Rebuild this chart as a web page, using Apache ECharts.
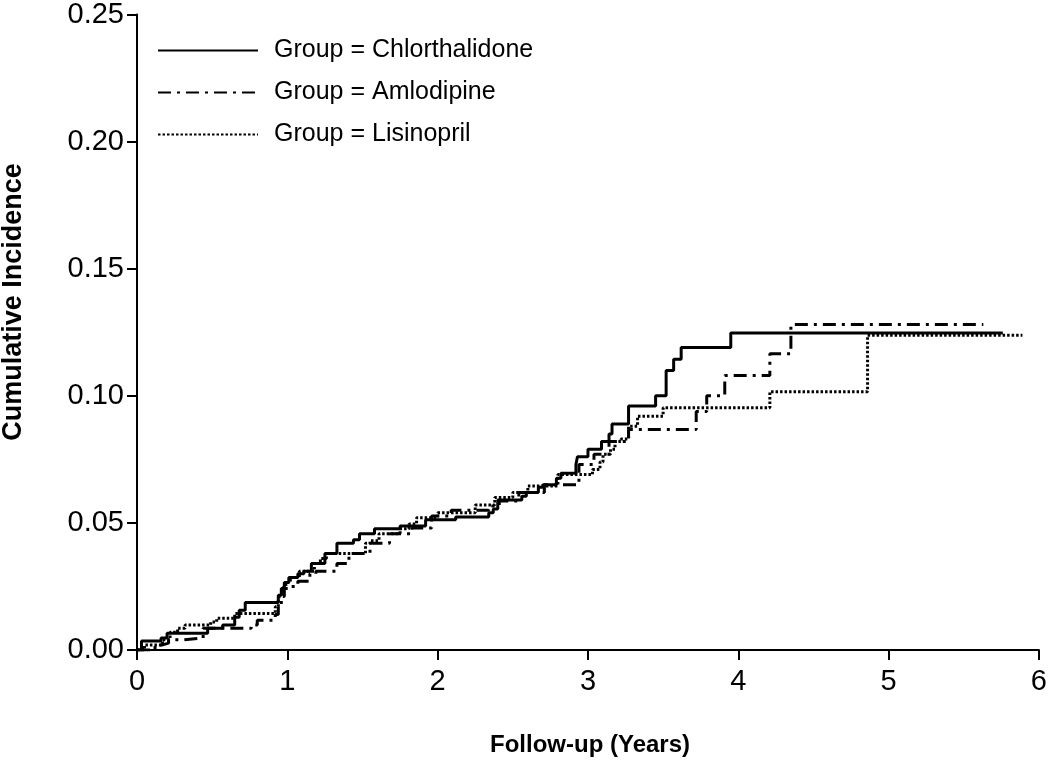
<!DOCTYPE html>
<html>
<head>
<meta charset="utf-8">
<script src="https://cdn.jsdelivr.net/npm/echarts@6/dist/echarts.min.js"></script>
<style>
  html, body { margin: 0; padding: 0; background: #ffffff; }
  #chart { width: 1050px; height: 772px; }
</style>
</head>
<body>
<div id="chart"></div>
<script>
// ---- Data ----
var seriesNames = ['Group = Chlorthalidone', 'Group = Amlodipine', 'Group = Lisinopril'];

var chlorTime = [0, 0.03, 0.16, 0.20, 0.47, 0.57, 0.65, 0.68, 0.72, 0.94, 0.96, 0.98, 1.01, 1.07, 1.11, 1.16, 1.25, 1.33, 1.44, 1.48, 1.58, 1.75, 1.92, 2.12, 2.34, 2.37, 2.40, 2.56, 2.59, 2.67, 2.70, 2.79, 2.82, 2.92, 2.93, 3.00, 3.09, 3.14, 3.16, 3.27, 3.45, 3.52, 3.57, 3.62, 3.95, 5.76];
var chlorValue = [0, 0.0035, 0.0047, 0.0066, 0.0086, 0.0098, 0.0129, 0.0156, 0.0187, 0.0215, 0.0242, 0.0266, 0.0285, 0.030, 0.031, 0.034, 0.038, 0.042, 0.0434, 0.0457, 0.0477, 0.0488, 0.0512, 0.0523, 0.054, 0.0555, 0.059, 0.0605, 0.062, 0.064, 0.065, 0.0676, 0.0695, 0.073, 0.076, 0.079, 0.082, 0.085, 0.0889, 0.096, 0.100, 0.110, 0.1144, 0.119, 0.1247, 0.1247];

var amloTime = [0, 0.12, 0.17, 0.21, 0.31, 0.44, 0.76, 0.80, 0.92, 0.94, 0.96, 0.98, 1.02, 1.07, 1.15, 1.19, 1.33, 1.41, 1.55, 1.68, 1.83, 1.96, 2.09, 2.34, 2.41, 2.54, 2.71, 2.94, 3.04, 3.14, 3.27, 3.72, 3.79, 3.91, 4.21, 4.35, 5.63];
var amloValue = [0, 0.002, 0.0027, 0.004, 0.0047, 0.0086, 0.0098, 0.0117, 0.014, 0.017, 0.021, 0.0242, 0.025, 0.027, 0.030, 0.031, 0.034, 0.038, 0.042, 0.0457, 0.048, 0.0527, 0.055, 0.0566, 0.0586, 0.062, 0.065, 0.073, 0.077, 0.082, 0.0867, 0.0938, 0.100, 0.108, 0.1165, 0.128, 0.128];

var lisiTime = [0, 0.05, 0.17, 0.22, 0.27, 0.32, 0.49, 0.53, 0.65, 0.92, 0.94, 0.95, 0.97, 0.99, 1.02, 1.08, 1.18, 1.22, 1.26, 1.52, 1.55, 1.61, 1.75, 1.81, 1.86, 2.00, 2.25, 2.38, 2.50, 2.60, 2.80, 3.03, 3.08, 3.10, 3.15, 3.18, 3.22, 3.27, 3.33, 3.50, 4.21, 4.86, 5.89];
var lisiValue = [0, 0.002, 0.004, 0.007, 0.0086, 0.0098, 0.011, 0.0125, 0.0144, 0.017, 0.0195, 0.022, 0.0246, 0.0266, 0.0285, 0.031, 0.034, 0.036, 0.038, 0.042, 0.043, 0.0457, 0.0477, 0.0496, 0.052, 0.054, 0.057, 0.060, 0.062, 0.0645, 0.069, 0.071, 0.074, 0.077, 0.079, 0.082, 0.083, 0.088, 0.092, 0.0953, 0.1016, 0.1238, 0.1238];

var xTicks = [0, 1, 2, 3, 4, 5, 6];
var yTicks = [0, 0.05, 0.10, 0.15, 0.20, 0.25];

function pairs(t, v) {
  var out = [];
  for (var i = 0; i < t.length; i++) out.push([t[i], v[i]]);
  return out;
}

var FONT = "'Liberation Sans', Arial, sans-serif";
var chart = echarts.init(document.getElementById('chart'), null, { renderer: 'canvas' });

var axisCommon = {
  axisLine: { show: true, onZero: false, lineStyle: { color: '#000', width: 2 } },
  axisTick: { show: true, inside: false, length: 10, lineStyle: { color: '#000', width: 2 } },
  splitLine: { show: false }
};

var dashStyles = ['solid', [13, 6, 3, 6], [2.5, 2]];

function lineSeries(name, data, dash, width) {
  return {
    name: name,
    type: 'line',
    step: 'end',
    symbol: 'none',
    showSymbol: false,
    animation: false,
    data: data,
    lineStyle: { color: '#000', width: width, type: dash },
    itemStyle: { color: '#000' }
  };
}

chart.setOption({
  animation: false,
  backgroundColor: '#ffffff',
  grid: { left: 137, right: 9, top: 10, bottom: 122, containLabel: false },
  legend: {
    orient: 'vertical',
    left: 157,
    top: 38,
    padding: 0,
    itemWidth: 100,
    itemHeight: 14,
    itemGap: 17,
    selectedMode: false,
    data: seriesNames,
    itemStyle: { opacity: 0, borderWidth: 0 },
    textStyle: { fontFamily: FONT, fontSize: 25, color: '#000', padding: [0, 0, 0, 11] }
  },
  xAxis: Object.assign({
    type: 'value',
    min: xTicks[0],
    max: xTicks[xTicks.length - 1],
    interval: 1,
    axisLabel: { color: '#000', fontFamily: FONT, fontSize: 29, margin: 17 }
  }, axisCommon),
  yAxis: Object.assign({
    type: 'value',
    min: yTicks[0],
    max: yTicks[yTicks.length - 1],
    interval: 0.05,
    axisLabel: {
      color: '#000', fontFamily: FONT, fontSize: 29, margin: 13,
      formatter: function (v) { return v.toFixed(2); }
    }
  }, axisCommon),
  graphic: [
    {
      type: 'text',
      left: 490,
      top: 733,
      style: { text: 'Follow-up (Years)', fontFamily: FONT, fontWeight: 'bold', fontSize: 24, fill: '#000' }
    },
    {
      type: 'text',
      x: 0,
      y: 302,
      rotation: Math.PI / 2,
      style: { text: 'Cumulative Incidence', fontFamily: FONT, fontWeight: 'bold', fontSize: 27, fill: '#000', align: 'center', verticalAlign: 'top' }
    }
  ],
  series: [
    lineSeries(seriesNames[0], pairs(chlorTime, chlorValue), dashStyles[0], 3),
    lineSeries(seriesNames[1], pairs(amloTime, amloValue), dashStyles[1], 3),
    lineSeries(seriesNames[2], pairs(lisiTime, lisiValue), dashStyles[2], 3)
  ]
});
</script>
</body>
</html>
